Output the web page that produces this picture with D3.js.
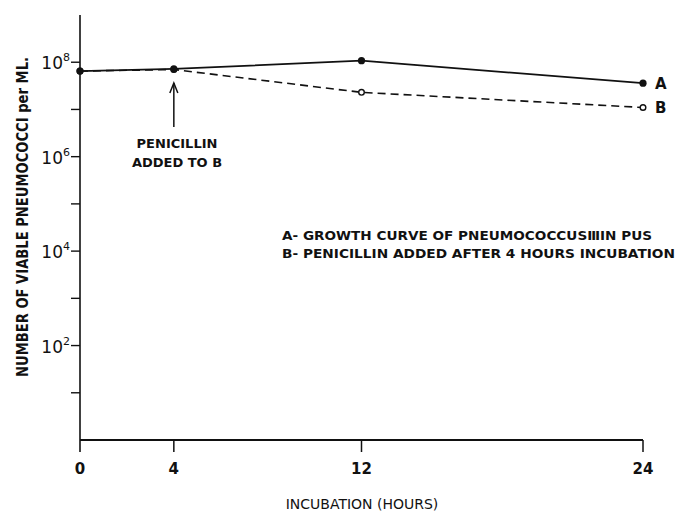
<!DOCTYPE html>
<html><head><meta charset="utf-8">
<script src="https://cdn.jsdelivr.net/npm/d3@7"></script>
<style>
html,body{margin:0;padding:0;background:#fff;}
text{font-family:"DejaVu Sans",sans-serif;fill:#111;}
</style></head>
<body><svg id="c" width="680" height="514"></svg>
<script>
// Data
const hours = [0, 4, 12, 24];
const seriesA = [6.5e7, 7.2e7, 1.08e8, 3.6e7];
const seriesB = [6.5e7, 7.0e7, 2.3e7, 1.1e7];
const xTicks = [0, 4, 12, 24];
const yMajorTicks = [1e2, 1e4, 1e6, 1e8];
const yMinorTicks = [1e1, 1e3, 1e5, 1e7];
const yTickExp = ["2", "4", "6", "8"];
const legendLines = ["A- GROWTH CURVE OF PNEUMOCOCCUS\u2162IN PUS", "B- PENICILLIN ADDED AFTER 4 HOURS INCUBATION"];

const svg = d3.select("#c");
const x = d3.scaleLinear().domain([0, 24]).range([80, 643]);
const y = d3.scaleLog().domain([1, 1e9]).range([440, 15]);
const ink = "#111";

// axes lines
svg.append("line").attr("x1", 80).attr("x2", 80).attr("y1", y(1e9)).attr("y2", 452)
  .attr("stroke", ink).attr("stroke-width", 1.6);
svg.append("line").attr("x1", 80).attr("x2", x(24)).attr("y1", 440).attr("y2", 440)
  .attr("stroke", ink).attr("stroke-width", 1.8);

// x ticks
svg.selectAll(".xt").data(xTicks.filter(d => d > 0)).enter().append("line")
  .attr("x1", d => x(d)).attr("x2", d => x(d)).attr("y1", 440).attr("y2", 452)
  .attr("stroke", ink).attr("stroke-width", 1.5);
svg.selectAll(".xl").data(xTicks).enter().append("text")
  .attr("x", d => x(d)).attr("y", 474).attr("text-anchor", "middle")
  .attr("font-size", 15).style("font-weight", "bold").text(d => d);

// y ticks
svg.selectAll(".yt").data(yMajorTicks.concat(yMinorTicks)).enter().append("line")
  .attr("x1", 71).attr("x2", 80).attr("y1", d => y(d)).attr("y2", d => y(d))
  .attr("stroke", ink).attr("stroke-width", 1.4);
const yl = svg.selectAll(".yl").data(yMajorTicks).enter().append("text")
  .attr("x", 70).attr("y", d => y(d) + 7).attr("text-anchor", "end").attr("font-size", 17)
  .style("font-weight", "normal");
yl.append("tspan").text("10");
yl.append("tspan").attr("dy", -8).attr("font-size", 11).text((d, i) => yTickExp[i]);

// axis titles
svg.append("text").attr("x", 362).attr("y", 509).attr("text-anchor", "middle")
  .attr("font-size", 14).style("font-weight", "normal").text("INCUBATION (HOURS)");
svg.append("text").attr("transform", "translate(28,217) rotate(-90)").attr("text-anchor", "middle")
  .attr("font-size", 15).style("font-weight", "bold").attr("textLength", 320)
  .attr("lengthAdjust", "spacingAndGlyphs")
  .text("NUMBER OF VIABLE PNEUMOCOCCI  per ML.");

// lines
const line = d3.line().x((d, i) => x(hours[i])).y(d => y(d));
svg.append("path").datum(seriesB).attr("d", line).attr("fill", "none")
  .attr("stroke", ink).attr("stroke-width", 1.6).attr("stroke-dasharray", "8,5");
svg.append("path").datum(seriesA).attr("d", line).attr("fill", "none")
  .attr("stroke", ink).attr("stroke-width", 1.8);
svg.selectAll(".pb").data(seriesB).enter().append("circle")
  .attr("cx", (d, i) => x(hours[i])).attr("cy", d => y(d)).attr("r", 2.8)
  .attr("fill", "#fff").attr("stroke", ink).attr("stroke-width", 1.4);
svg.selectAll(".pa").data(seriesA).enter().append("circle")
  .attr("cx", (d, i) => x(hours[i])).attr("cy", d => y(d)).attr("r", 3.6).attr("fill", ink);

// series labels
svg.append("text").attr("x", 655).attr("y", y(seriesA[3]) + 6).attr("font-size", 15).style("font-weight", "bold").text("A");
svg.append("text").attr("x", 655).attr("y", y(seriesB[3]) + 6).attr("font-size", 15).style("font-weight", "bold").text("B");

// annotation
const ax = x(4);
svg.append("line").attr("x1", ax).attr("x2", ax).attr("y1", 127).attr("y2", 83)
  .attr("stroke", ink).attr("stroke-width", 1.5);
svg.append("path").attr("d", `M${ax-4},${93}L${ax},${83}L${ax+4},${93}`).attr("fill", "none")
  .attr("stroke", ink).attr("stroke-width", 1.5);
svg.append("text").attr("x", 177).attr("y", 148).attr("text-anchor", "middle").attr("font-size", 13)
  .style("font-weight", "bold").text("PENICILLIN");
svg.append("text").attr("x", 177).attr("y", 167).attr("text-anchor", "middle").attr("font-size", 13)
  .style("font-weight", "bold").text("ADDED TO B");

// legend text
svg.selectAll(".lg").data(legendLines).enter().append("text")
  .attr("x", 282).attr("y", (d, i) => 240 + i * 18).attr("font-size", 13).style("font-weight", "bold")
  .attr("textLength", (d, i) => i === 0 ? 370 : 393).attr("lengthAdjust", "spacingAndGlyphs")
  .text(d => d);
</script></body></html>
